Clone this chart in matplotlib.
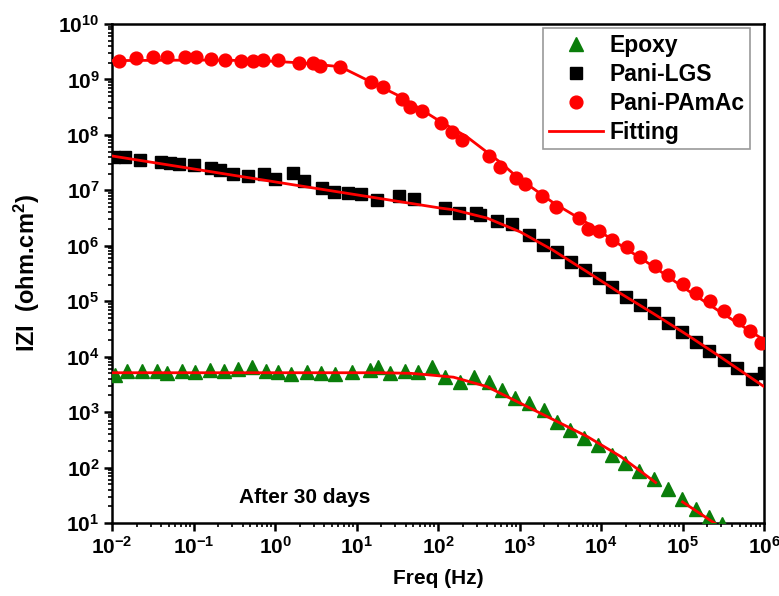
import numpy as np
import matplotlib
matplotlib.use("Agg")
import matplotlib.pyplot as plt
from matplotlib.ticker import LogLocator, FuncFormatter, NullFormatter

plt.rcParams['font.family'] = ['Liberation Sans', 'DejaVu Sans']
plt.rcParams['font.weight'] = 'bold'
plt.rcParams['mathtext.fontset'] = 'custom'
plt.rcParams['mathtext.rm'] = 'Liberation Sans:bold'
plt.rcParams['mathtext.bf'] = 'Liberation Sans:bold'
plt.rcParams['mathtext.it'] = 'Liberation Sans:bold'

# values, stored as log10(freq) and log10(|Z|)
pam_logf = [-1.92, -1.70, -1.50, -1.32, -1.10, -0.97, -0.79, -0.61, -0.42, -0.27,
            -0.15, 0.04, 0.29, 0.47, 0.55, 0.80, 1.18, 1.33, 1.56, 1.65,
            1.80, 2.04, 2.17, 2.29, 2.63, 2.76, 2.96, 3.07, 3.28, 3.45,
            3.73, 3.84, 3.98, 4.14, 4.32, 4.48, 4.66, 4.82, 5.00, 5.16,
            5.34, 5.51, 5.69, 5.83, 5.96]
pam_logz = [9.33, 9.38, 9.40, 9.40, 9.40, 9.40, 9.37, 9.35, 9.33, 9.33,
            9.35, 9.36, 9.30, 9.29, 9.24, 9.22, 8.96, 8.87, 8.64, 8.50,
            8.44, 8.21, 8.05, 7.91, 7.62, 7.43, 7.23, 7.11, 6.90, 6.70,
            6.50, 6.31, 6.27, 6.10, 5.97, 5.80, 5.63, 5.48, 5.31, 5.15,
            5.00, 4.83, 4.66, 4.47, 4.24]

lgs_logf = [-1.98, -1.84, -1.66, -1.40, -1.29, -1.18, -0.99, -0.78, -0.68, -0.51,
            -0.33, -0.13, 0.00, 0.22, 0.35, 0.58, 0.72, 0.90, 1.06, 1.25,
            1.52, 1.70, 2.09, 2.26, 2.46, 2.52, 2.72, 2.91, 3.12, 3.29,
            3.46, 3.63, 3.80, 3.97, 4.14, 4.31, 4.48, 4.65, 4.82, 4.99,
            5.16, 5.33, 5.51, 5.67, 5.85, 6.00]
lgs_logz = [7.61, 7.61, 7.55, 7.52, 7.49, 7.47, 7.46, 7.41, 7.37, 7.29,
            7.26, 7.30, 7.20, 7.32, 7.16, 7.05, 6.97, 6.96, 6.93, 6.83,
            6.90, 6.85, 6.69, 6.60, 6.60, 6.55, 6.45, 6.39, 6.19, 6.01,
            5.89, 5.71, 5.56, 5.41, 5.25, 5.08, 4.93, 4.78, 4.60, 4.44,
            4.27, 4.11, 3.94, 3.79, 3.60, 3.71]

epx_logf = [-1.96, -1.82, -1.63, -1.45, -1.32, -1.14, -0.98, -0.80, -0.63, -0.46,
            -0.28, -0.11, 0.04, 0.19, 0.39, 0.57, 0.73, 0.94, 1.17, 1.26,
            1.41, 1.59, 1.76, 1.93, 2.09, 2.27, 2.44, 2.62, 2.78, 2.95,
            3.12, 3.30, 3.46, 3.62, 3.79, 3.96, 4.14, 4.30, 4.46, 4.65,
            4.82, 4.99, 5.16, 5.33, 5.49]
epx_logz = [3.67, 3.75, 3.75, 3.75, 3.71, 3.75, 3.73, 3.76, 3.74, 3.77,
            3.81, 3.74, 3.73, 3.69, 3.72, 3.71, 3.69, 3.73, 3.76, 3.82,
            3.70, 3.75, 3.72, 3.81, 3.64, 3.55, 3.63, 3.55, 3.40, 3.25,
            3.16, 3.04, 2.83, 2.68, 2.53, 2.41, 2.23, 2.09, 1.94, 1.79,
            1.61, 1.44, 1.26, 1.11, 0.98]

# fitted curves (read as a few points along each red line)
fit_pam_logf = [-2.00, -0.92, -0.18, 0.31, 0.80, 1.13, 1.54, 2.03, 2.35, 2.76,
                2.97, 3.42, 3.83, 4.24, 4.65, 5.06, 5.46, 6.00]
fit_pam_logz = [9.34, 9.35, 9.34, 9.30, 9.23, 8.99, 8.69, 8.24, 7.97, 7.51,
                7.24, 6.77, 6.41, 6.01, 5.62, 5.20, 4.81, 4.30]

fit_lgs_logf = [-2.00, 0.01, 2.03, 2.19, 2.60, 3.01, 3.41, 3.83, 4.24, 4.64,
                5.06, 5.46, 6.00]
fit_lgs_logz = [7.62, 7.15, 6.68, 6.65, 6.50, 6.25, 5.92, 5.53, 5.14, 4.78,
                4.39, 4.00, 3.46]

fit_epx_logf = [-2.00, 1.29, 1.66, 1.90, 2.19, 2.60, 3.01, 3.42, 3.83, 4.24, 4.67]
fit_epx_logz = [3.71, 3.71, 3.70, 3.67, 3.63, 3.46, 3.16, 2.86, 2.56, 2.20, 1.73]
fit_epx2_logf = [5.00, 5.40]
fit_epx2_logz = [1.38, 0.99]


def pw(a):
    return 10.0 ** np.asarray(a)


fig = plt.figure(figsize=(7.79, 5.96), dpi=100)
ax = fig.add_axes([0.1438, 0.1225, 0.8370, 0.8372])

red = '#ff0000'
green = '#0a7d0a'

ax.plot(pw(epx_logf), pw(epx_logz), ls='none', marker='^', ms=9.5,
        color=green, mec=green, label='Epoxy', zorder=3)
ax.plot(pw(lgs_logf), pw(lgs_logz), ls='none', marker='s', ms=8,
        color='black', label='Pani-LGS', zorder=3)
ax.plot(pw(pam_logf), pw(pam_logz), ls='none', marker='o', ms=9.2,
        color=red, label='Pani-PAmAc', zorder=3)
ax.plot(pw(fit_pam_logf), pw(fit_pam_logz), color=red, lw=2, label='Fitting', zorder=4)
ax.plot(pw(fit_lgs_logf), pw(fit_lgs_logz), color=red, lw=2, zorder=4)
ax.plot(pw(fit_epx_logf), pw(fit_epx_logz), color=red, lw=2, zorder=4)
ax.plot(pw(fit_epx2_logf), pw(fit_epx2_logz), color=red, lw=2, zorder=4)

ax.set_xscale('log')
ax.set_yscale('log')
ax.set_xlim(1e-2, 1e6)
ax.set_ylim(1e1, 1e10)

fmt = FuncFormatter(lambda v, p: r'$\mathbf{10^{%d}}$' % int(round(np.log10(v))))
ax.xaxis.set_major_locator(LogLocator(base=10, numticks=20))
ax.yaxis.set_major_locator(LogLocator(base=10, numticks=20))
ax.xaxis.set_minor_locator(LogLocator(base=10, subs=np.arange(2, 10), numticks=20))
ax.yaxis.set_minor_locator(LogLocator(base=10, subs=np.arange(2, 10), numticks=20))
ax.xaxis.set_major_formatter(fmt)
ax.yaxis.set_major_formatter(fmt)
ax.xaxis.set_minor_formatter(NullFormatter())
ax.yaxis.set_minor_formatter(NullFormatter())

ax.tick_params(which='major', direction='out', length=6, width=1.8, labelsize=15,
               top=False, right=False, pad=3)
ax.tick_params(which='minor', direction='out', length=3, width=1.2,
               top=False, right=False)
for s in ax.spines.values():
    s.set_linewidth(1.8)

ax.set_xlabel('Freq (Hz)', fontsize=15, fontweight='bold', labelpad=8)
ax.set_ylabel(r'IZI  (ohm.cm$^\mathbf{2}$)', fontsize=17, fontweight='bold', labelpad=12)

ax.text(0.296, 0.052, 'After 30 days', transform=ax.transAxes, fontsize=15,
        fontweight='bold', ha='center', va='center')

leg = ax.legend(loc='upper right', bbox_to_anchor=(0.979, 0.992), borderaxespad=0,
                fontsize=16.5, frameon=True, fancybox=False, edgecolor='#808080',
                handlelength=2.35, handletextpad=0.3, labelspacing=0.26,
                borderpad=0.25, numpoints=1)
leg.get_frame().set_linewidth(1.2)

fig.savefig('out.png', dpi=100)
